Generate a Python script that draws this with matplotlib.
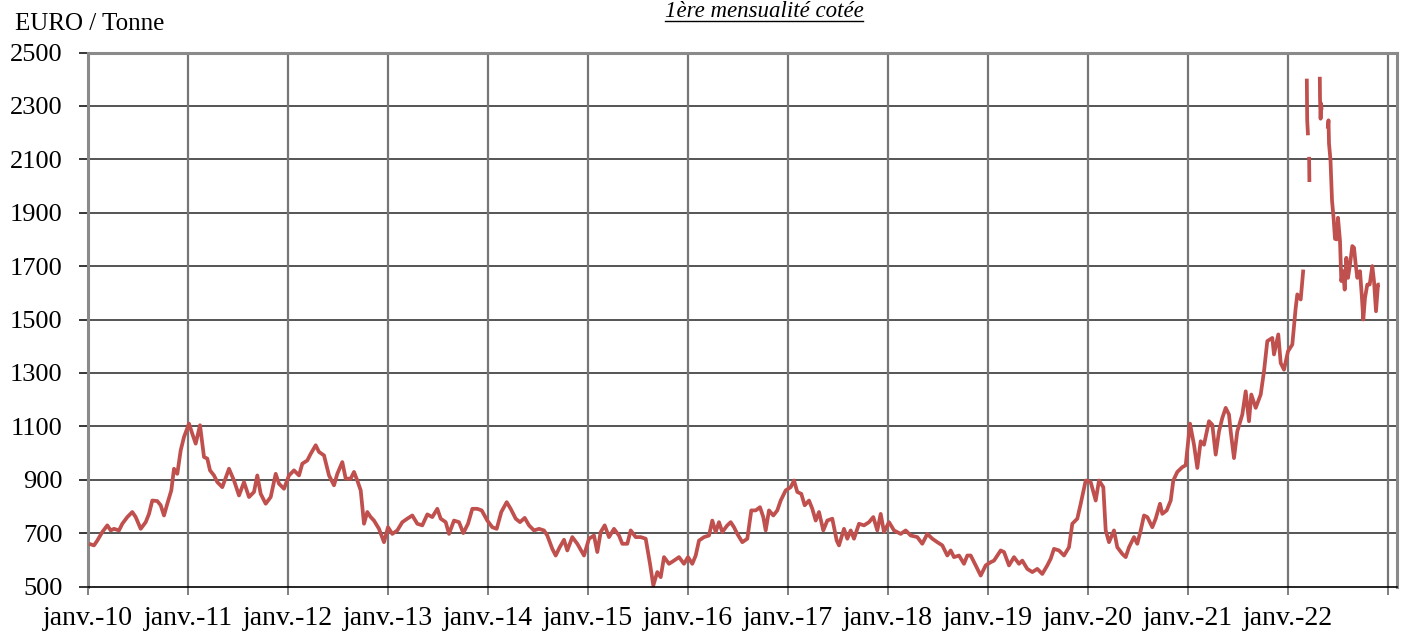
import numpy as np
import matplotlib
matplotlib.use("Agg")
import matplotlib.pyplot as plt
from matplotlib.lines import Line2D

nan = np.nan

# dates en annees decimales, prix en EURO / tonne
annees = [
    2010.010, 2010.060, 2010.093, 2010.143, 2010.193, 2010.227, 2010.260, 2010.310, 2010.343, 2010.393,
    2010.443, 2010.477, 2010.527, 2010.577, 2010.610, 2010.643, 2010.693, 2010.727, 2010.760, 2010.793,
    2010.833, 2010.860, 2010.893, 2010.927, 2010.960, 2011.010, 2011.043, 2011.077, 2011.120, 2011.160,
    2011.193, 2011.220, 2011.260, 2011.293, 2011.343, 2011.410, 2011.460, 2011.510, 2011.560, 2011.610,
    2011.660, 2011.693, 2011.727, 2011.777, 2011.827, 2011.877, 2011.910, 2011.960, 2012.010, 2012.060,
    2012.110, 2012.143, 2012.193, 2012.227, 2012.277, 2012.310, 2012.360, 2012.410, 2012.460, 2012.493,
    2012.543, 2012.577, 2012.627, 2012.660, 2012.693, 2012.727, 2012.760, 2012.793, 2012.827, 2012.860,
    2012.910, 2012.960,
    2013.000, 2013.043, 2013.093, 2013.143, 2013.193, 2013.243, 2013.293, 2013.343, 2013.393, 2013.443,
    2013.493, 2013.527, 2013.577, 2013.610, 2013.660, 2013.710, 2013.753, 2013.800, 2013.843, 2013.893,
    2013.937, 2013.993, 2014.043, 2014.087, 2014.133, 2014.187, 2014.227, 2014.277, 2014.320, 2014.367,
    2014.410, 2014.460, 2014.510, 2014.560, 2014.593, 2014.643, 2014.677, 2014.717, 2014.760, 2014.793,
    2014.843, 2014.893, 2014.960, 2015.010, 2015.060, 2015.093, 2015.127, 2015.167, 2015.210, 2015.260,
    2015.310, 2015.343, 2015.393, 2015.427, 2015.477, 2015.527, 2015.577, 2015.620, 2015.653, 2015.693,
    2015.727, 2015.760, 2015.810, 2015.860, 2015.910, 2015.960,
    2016.000, 2016.043, 2016.077, 2016.110, 2016.160, 2016.210, 2016.243, 2016.277, 2016.310, 2016.343,
    2016.393, 2016.427, 2016.460, 2016.493, 2016.543, 2016.593, 2016.633, 2016.677, 2016.720, 2016.753,
    2016.777, 2016.810, 2016.853, 2016.893, 2016.927, 2016.977, 2017.027, 2017.060, 2017.093, 2017.133,
    2017.167, 2017.210, 2017.243, 2017.277, 2017.310, 2017.353, 2017.393, 2017.443, 2017.487, 2017.510,
    2017.560, 2017.593, 2017.627, 2017.660, 2017.710, 2017.760, 2017.810, 2017.853, 2017.893, 2017.927,
    2017.960, 2018.010, 2018.060, 2018.127, 2018.177, 2018.227, 2018.293, 2018.343, 2018.393, 2018.443,
    2018.493, 2018.543, 2018.593, 2018.627, 2018.660, 2018.710, 2018.760, 2018.793, 2018.827, 2018.877,
    2018.927, 2018.977,
    2019.027, 2019.060, 2019.127, 2019.160, 2019.210, 2019.260, 2019.310, 2019.343, 2019.393, 2019.443,
    2019.493, 2019.543, 2019.593, 2019.627, 2019.660, 2019.710, 2019.760, 2019.810, 2019.843, 2019.893,
    2019.927, 2019.977, 2020.027, 2020.077, 2020.110, 2020.153, 2020.177, 2020.210, 2020.260, 2020.293,
    2020.343, 2020.377, 2020.410, 2020.460, 2020.493, 2020.527, 2020.560, 2020.593, 2020.643, 2020.677,
    2020.720, 2020.743, 2020.787, 2020.827, 2020.853, 2020.893, 2020.943, 2020.977, 2021.020,
    2021.060, 2021.093, 2021.127, 2021.160, 2021.210, 2021.243, 2021.277, 2021.310, 2021.343, 2021.377,
    2021.410, 2021.427, 2021.460, 2021.493, 2021.543, 2021.577, 2021.610, 2021.633, 2021.677, 2021.727,
    2021.760, 2021.793, 2021.843, 2021.860, 2021.903, 2021.927, 2021.960, 2022.000, 2022.043, 2022.077,
    2022.093, 2022.127, 2022.153,
    2022.170,
    2022.188, 2022.190, 2022.192, 2022.200,
    2022.206,
    2022.211, 2022.214,
    2022.260,
    2022.318, 2022.320, 2022.326, 2022.331, 2022.336,
    2022.370,
    2022.397, 2022.405, 2022.410, 2022.425, 2022.440, 2022.455, 2022.470,
    2022.487, 2022.500, 2022.520, 2022.533, 2022.550, 2022.567, 2022.583, 2022.600, 2022.620, 2022.643,
    2022.660, 2022.677, 2022.693, 2022.720, 2022.737, 2022.753, 2022.770, 2022.793, 2022.817, 2022.843,
    2022.860, 2022.880, 2022.900, 2022.917,
]

prix = [
    660, 654, 672, 704, 729, 710, 716, 710, 735, 760,
    779, 760, 716, 741, 772, 822, 820, 804, 766, 810,
    860, 941, 922, 1010, 1060, 1110, 1072, 1035, 1104, 985,
    979, 935, 916, 891, 872, 941, 897, 841, 891, 835,
    854, 916, 847, 810, 835, 922, 885, 866, 916, 935,
    916, 960, 972, 997, 1029, 1004, 991, 916, 879, 922,
    966, 904, 904, 929, 897, 860, 735, 779, 760, 747,
    716, 666,
    722, 697, 710, 741, 754, 766, 735, 729, 770, 760,
    791, 754, 741, 697, 747, 741, 700, 735, 791, 791,
    785, 747, 722, 716, 779, 816, 791, 754, 741, 757,
    729, 710, 716, 710, 691, 641, 616, 647, 675, 635,
    685, 660, 616, 679, 691, 629, 704, 729, 685, 716,
    691, 660, 660, 710, 685, 685, 679, 585, 504, 554,
    535, 610, 585, 597, 610, 585,
    610, 585, 616, 672, 685, 691, 747, 704, 741, 704,
    729, 741, 722, 697, 666, 679, 785, 785, 797, 760,
    710, 785, 766, 785, 822, 860, 872, 897, 854, 847,
    804, 822, 791, 747, 779, 710, 747, 754, 672, 654,
    716, 679, 710, 679, 735, 729, 741, 760, 710, 772,
    704, 741, 710, 697, 710, 691, 685, 660, 697, 679,
    666, 654, 616, 635, 610, 616, 585, 616, 616, 579,
    541, 579,
    591, 597, 635, 629, 579, 610, 585, 597, 566, 554,
    566, 547, 579, 604, 641, 635, 616, 647, 735, 754,
    810, 897, 891, 822, 897, 872, 710, 666, 710, 647,
    622, 610, 647, 685, 660, 710, 766, 760, 722, 754,
    810, 772, 785, 822, 897, 929, 947, 954, 1110,
    1031, 944, 1044, 1031, 1119, 1106, 994, 1081, 1131, 1169,
    1144, 1081, 981, 1081, 1144, 1231, 1119, 1219, 1169, 1219,
    1306, 1419, 1431, 1369, 1444, 1337, 1312, 1381, 1406, 1544,
    1594, 1575, 1687,
    nan,
    2402, 2300, 2246, 2190,
    nan,
    2109, 2015,
    nan,
    2409, 2330, 2252, 2309, 2285,
    nan,
    2215, 2246, 2159, 2096, 1946, 1884, 1802,
    1800, 1881, 1794, 1644, 1681, 1612, 1731, 1656, 1706, 1775,
    1769, 1706, 1656, 1681, 1594, 1500, 1581, 1631, 1631, 1700,
    1644, 1531, 1631, 1631,
]

ans = list(range(2010, 2024))
etiquettes = ["janv.-%02d" % (a % 100) for a in ans[:-1]] + [""]
paliers = list(range(500, 2501, 200))

police = "Liberation Serif"

fig = plt.figure(figsize=(14.02, 6.35), dpi=100)
ax = fig.add_axes([88 / 1402, 1 - 586.5 / 635, (1397 - 88) / 1402, (586.5 - 52.5) / 635])

ax.plot(annees, prix, color="#C0504D", lw=2.7, solid_capstyle="butt", solid_joinstyle="round", zorder=3)

ax.set_xlim(2010, 2023.09)
ax.set_ylim(500, 2500)
ax.set_xticks(ans)
ax.set_xticklabels(etiquettes)
ax.set_yticks(paliers)

for y in paliers[1:-1]:
    ax.axhline(y, color="#262626", lw=1.1, zorder=1)
for a in ans[1:]:
    ax.axvline(a, color="#767676", lw=1.6, zorder=1)

for s in ["left", "top", "right"]:
    ax.spines[s].set_color("#8a8a8a")
    ax.spines[s].set_linewidth(2.2)
ax.spines["bottom"].set_color("black")
ax.spines["bottom"].set_linewidth(1.2)
ax.spines["bottom"].set_zorder(4)

ax.tick_params(axis="y", direction="out", length=6.5, width=1.1, color="black", pad=12, labelsize=19)
ax.tick_params(axis="x", direction="out", length=6, width=1.4, color="#808080", pad=8, labelsize=20)
for lab in ax.get_xticklabels() + ax.get_yticklabels():
    lab.set_fontfamily(police)

fig.text(15 / 1402, 1 - 30 / 635, "EURO / Tonne", family=police, fontsize=18, va="baseline", ha="left")

titre = fig.text(764 / 1402, 1 - 17 / 635, "1ère mensualité cotée", family=police, style="italic",
                 fontsize=16.5, ha="center", va="baseline")
fig.canvas.draw()
bb = titre.get_window_extent().transformed(fig.transFigure.inverted())
fig.add_artist(Line2D([bb.x0, bb.x1], [1 - 21 / 635, 1 - 21 / 635], transform=fig.transFigure,
                      color="black", lw=1.0))

fig.savefig("out.png", dpi=100)
